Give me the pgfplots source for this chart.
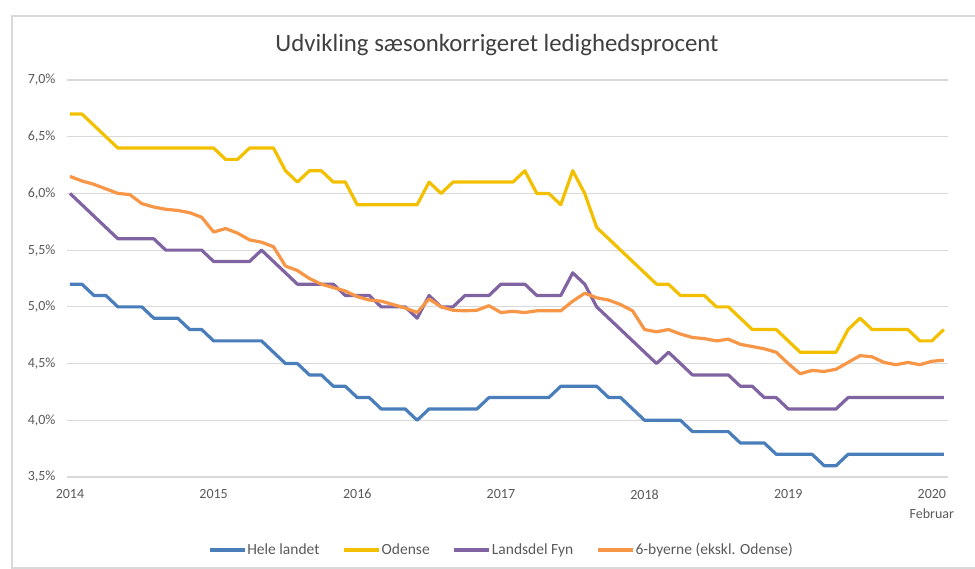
\documentclass[border=0pt]{standalone}
\usepackage{pgfplots}
\pgfplotsset{compat=1.18}
\usepackage{pgfplotstable}
\usepackage{fontspec}
\setmainfont{Carlito}
\definecolor{cblue}{RGB}{74,126,187}
\definecolor{cyellow}{RGB}{242,192,0}
\definecolor{cpurple}{RGB}{128,100,162}
\definecolor{corange}{RGB}{247,150,70}
\definecolor{cgrid}{RGB}{217,217,217}
\definecolor{ctext}{RGB}{89,89,89}
\definecolor{ctitle}{RGB}{64,64,64}
\pgfplotstableread{
m hele odense fyn seks
0 5.2 6.7 6.0 6.15
1 5.2 6.7 5.9 6.11
2 5.1 6.6 5.8 6.08
3 5.1 6.5 5.7 6.04
4 5.0 6.4 5.6 6.00
5 5.0 6.4 5.6 5.99
6 5.0 6.4 5.6 5.91
7 4.9 6.4 5.6 5.88
8 4.9 6.4 5.5 5.86
9 4.9 6.4 5.5 5.85
10 4.8 6.4 5.5 5.83
11 4.8 6.4 5.5 5.79
12 4.7 6.4 5.4 5.66
13 4.7 6.3 5.4 5.69
14 4.7 6.3 5.4 5.65
15 4.7 6.4 5.4 5.59
16 4.7 6.4 5.5 5.57
17 4.6 6.4 5.4 5.53
18 4.5 6.2 5.3 5.36
19 4.5 6.1 5.2 5.32
20 4.4 6.2 5.2 5.25
21 4.4 6.2 5.2 5.20
22 4.3 6.1 5.2 5.17
23 4.3 6.1 5.1 5.14
24 4.2 5.9 5.1 5.09
25 4.2 5.9 5.1 5.06
26 4.1 5.9 5.0 5.05
27 4.1 5.9 5.0 5.02
28 4.1 5.9 5.0 4.99
29 4.0 5.9 4.9 4.95
30 4.1 6.1 5.1 5.07
31 4.1 6.0 5.0 5.00
32 4.1 6.1 5.0 4.97
33 4.1 6.1 5.1 4.965
34 4.1 6.1 5.1 4.97
35 4.2 6.1 5.1 5.01
36 4.2 6.1 5.2 4.95
37 4.2 6.1 5.2 4.96
38 4.2 6.2 5.2 4.95
39 4.2 6.0 5.1 4.965
40 4.2 6.0 5.1 4.965
41 4.3 5.9 5.1 4.965
42 4.3 6.2 5.3 5.05
43 4.3 6.0 5.2 5.12
44 4.3 5.7 5.0 5.08
45 4.2 5.6 4.9 5.06
46 4.2 5.5 4.8 5.02
47 4.1 5.4 4.7 4.965
48 4.0 5.3 4.6 4.80
49 4.0 5.2 4.5 4.78
50 4.0 5.2 4.6 4.80
51 4.0 5.1 4.5 4.76
52 3.9 5.1 4.4 4.73
53 3.9 5.1 4.4 4.72
54 3.9 5.0 4.4 4.70
55 3.9 5.0 4.4 4.715
56 3.8 4.9 4.3 4.67
57 3.8 4.8 4.3 4.65
58 3.8 4.8 4.2 4.63
59 3.7 4.8 4.2 4.60
60 3.7 4.7 4.1 4.50
61 3.7 4.6 4.1 4.41
62 3.7 4.6 4.1 4.44
63 3.6 4.6 4.1 4.43
64 3.6 4.6 4.1 4.45
65 3.7 4.8 4.2 4.51
66 3.7 4.9 4.2 4.57
67 3.7 4.8 4.2 4.56
68 3.7 4.8 4.2 4.51
69 3.7 4.8 4.2 4.49
70 3.7 4.8 4.2 4.51
71 3.7 4.7 4.2 4.49
72 3.7 4.7 4.2 4.52
73 3.7 4.8 4.2 4.53
}\data
\begin{document}
\begin{tikzpicture}[x=1pt,y=1pt]
\useasboundingbox (0,0) rectangle (975,569);
\draw[cgrid, line width=1.2pt] (12,-5) -- (12,553) -- (985,553);
\draw[cgrid, line width=1.2pt] (12,1) -- (985,1);
\node[font=\fontsize{24.8}{28}\selectfont, text=ctitle] at (497,524) {Udvikling sæsonkorrigeret ledighedsprocent};
\begin{axis}[
  at={(67pt,92pt)}, anchor=south west,
  scale only axis, width=881pt, height=397pt,
  xmin=-0.25, xmax=73.35, ymin=3.5, ymax=7.0,
  axis line style={draw=none},
  major tick length=0pt,
  ytick={3.5,4.0,4.5,5.0,5.5,6.0,6.5,7.0},
  yticklabels={{3,5\%},{4,0\%},{4,5\%},{5,0\%},{5,5\%},{6,0\%},{6,5\%},{7,0\%}},
  xtick={0,12,24,36,48,60,72},
  xticklabels={2014,2015,2016,2017,2018,2019,{2020\\[1pt]Februar}},
  ymajorgrids, grid style={cgrid, line width=1.1pt},
  tick label style={font=\fontsize{14}{19}\selectfont, text=ctext},
  yticklabel style={xshift=-8pt},
  xticklabel style={align=center, yshift=-9pt, anchor=north},
  legend columns=4,
  legend style={at={(0.4926,-0.184)}, anchor=center, draw=none, fill=none,
    font=\fontsize{15.5}{18}\selectfont, text=ctext,
    /tikz/every even column/.append style={column sep=22pt},
    /tikz/every odd column/.append style={column sep=0pt},
    inner sep=0pt, nodes={inner sep=1pt}},
  legend image code/.code={\draw[#1, line width=3.2pt] (0pt,0pt) -- (35pt,0pt);},
  every axis plot/.append style={line width=3.2pt, line join=round, no markers},
]
\addplot[cblue] table[x=m, y=hele] {\data};
\addlegendentry{Hele landet}
\addplot[cyellow] table[x=m, y=odense] {\data};
\addlegendentry{Odense}
\addplot[cpurple] table[x=m, y=fyn] {\data};
\addlegendentry{Landsdel Fyn}
\addplot[corange] table[x=m, y=seks] {\data};
\addlegendentry{6-byerne (ekskl. Odense)}
\end{axis}
\end{tikzpicture}
\end{document}
